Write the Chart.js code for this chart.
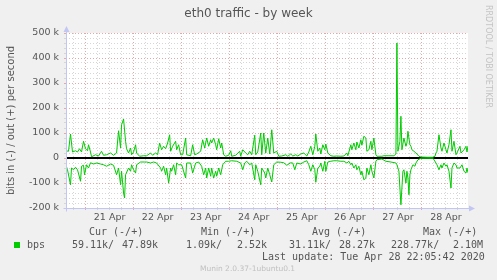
<!DOCTYPE html>
<html><head><meta charset="utf-8">
<script src="https://cdn.jsdelivr.net/npm/chart.js@4/dist/chart.umd.min.js"></script>
<style>
html,body{margin:0;padding:0;background:#f0f0f0;}
#wrap{position:relative;width:497px;height:280px;overflow:hidden;background:#f0f0f0;}
canvas{position:absolute;left:0;top:0;}
.t{position:absolute;white-space:pre;line-height:1;color:#555;}
.m{font-family:'DejaVu Sans Mono',monospace;font-size:10px;}
</style></head><body>
<div id="wrap">
<canvas id="c" width="497" height="280"></canvas>
<div class="t" style="left:0;width:497px;text-align:center;top:7px;font-family:'DejaVu Sans';font-size:12px;">eth0 traffic - by week</div>
<div class="t" style="left:492px;top:5px;font-family:'DejaVu Sans';font-size:8px;color:#c4c4c4;transform:rotate(90deg);transform-origin:0 0;">RRDTOOL / TOBI OETIKER</div>
<div class="t m" style="left:89px;top:227px;">Cur (-/+)</div>
<div class="t m" style="left:201px;top:227px;">Min (-/+)</div>
<div class="t m" style="left:312px;top:227px;">Avg (-/+)</div>
<div class="t m" style="left:423px;top:227px;">Max (-/+)</div>
<div style="position:absolute;left:14px;top:242px;width:6px;height:6px;background:#00cc00;"></div>
<div class="t m" style="left:27px;top:240px;">bps</div>
<div class="t m" style="left:72px;top:240px;">59.11k/</div>
<div class="t m" style="left:122px;top:240px;">47.89k</div>
<div class="t m" style="left:186px;top:240px;">1.09k/</div>
<div class="t m" style="left:237px;top:240px;">2.52k</div>
<div class="t m" style="left:289px;top:240px;">31.11k/</div>
<div class="t m" style="left:339px;top:240px;">28.27k</div>
<div class="t m" style="left:391px;top:240px;">228.77k/</div>
<div class="t m" style="left:453px;top:240px;">2.10M</div>
<div class="t m" style="left:262px;top:252px;">Last update: Tue Apr 28 22:05:42 2020</div>
<div class="t" style="left:0;width:495px;text-align:center;top:265px;font-family:'DejaVu Sans';font-size:7.5px;color:#c0c0c0;">Munin 2.0.37-1ubuntu0.1</div>
</div>
<script>
// hours relative to 21 Apr 00:00, values in kbit/s
const outHours = [-9.75,-8.5,-7.5,-6.5,-5,-4,-3,-2,-1,0,1,1.5,2.5,3,5,6.5,8,9,10.5,12.5,14,15.5,16.5,17.5,18,19,20,20.5,21.5,22.5,23,24,25,25.5,27,29,
30.5,32.5,33.5,35,36,37,38,39,40,41,42,42.5,43.5,45,45.5,46.5,47.5,48.5,50,50.5,52.5,53.5,54.5,55.5,57.5,58.5,59.5,60.5,61.5,62.5,63,64,65,65.5,66.5,67.5,68,69,
70,71.5,72.5,73,75,77,77.5,78.5,80,81,82,83,84.5,85,86,87.5,88,89,90,91,92,93,94,95.5,96.5,98,100,101,102.5,103.5,105,106,107.5,109,
110.5,111.5,112.5,113.5,114.5,115,116,117,117.5,118.5,119.5,120,121,122.5,124,125.5,127.5,129,130.5,131,132.5,133,134,135,135.5,136.5,137.5,138,139,140,140.5,141.5,142.5,143,144,145,145.5,148,
149,151.5,154,155,155.5,156,157,157.5,158,159,160,160.5,161,162,162.5,163,164,165,165.5,166.5,167.5,170.5,173.5,174.5,175,175.5,176.5,177.5,178,179,180,180.5,181.5,182.5,183,184,185,185.5,187,187.5,189,190,190.5,191];
const outK = [29,27,96,24,29,24,37,24,67,37,29,53,24,5,13,8,27,11,13,20,11,20,109,40,133,156,67,37,20,40,13,24,53,20,7,9,
9,20,11,20,13,60,33,47,37,60,93,27,47,67,33,53,13,13,80,13,9,53,13,16,27,73,40,80,47,73,60,80,53,33,77,40,60,13,
7,11,29,7,11,27,7,33,20,13,27,13,91,13,24,100,13,100,20,80,16,113,20,27,7,8,13,7,16,8,13,8,16,20,
8,24,47,13,47,96,27,40,16,53,33,56,20,9,7,8,7,8,20,9,53,33,60,33,64,40,73,51,87,80,27,33,67,33,80,13,7,7,
9,9,9,16,460,27,67,167,33,80,47,60,107,53,47,33,27,20,16,7,4,3,3,7,20,27,93,40,27,60,33,20,53,113,27,67,13,20,47,20,33,47,24,48];
const inHours = [-9.75,-9,-7.5,-7,-6,-5,-4,-2.5,-2,-1,-0.5,0.5,1.5,2.5,4,5.5,7.5,9,10.5,12.5,14,15.5,16.5,17.5,18,19,19.5,20,21.5,22.5,23,24,25,25.5,27.5,29.5,
30.5,32.5,34,35.5,37.5,38,39,40,40.5,41.5,42.5,43,44,45,45.5,46.5,48,50,50.5,52.5,53.5,55,56.5,58,59,60,60.5,61.5,62.5,63,64,65,65.5,66.5,67.5,68.5,70,
71.5,73,75.5,77.5,78.5,79.5,80.5,82,83,84.5,85,86,87.5,88,89.5,90,91,92,93,94,95.5,97.5,99,100.5,102.5,103.5,104.5,105.5,107.5,109,
110.5,111.5,112.5,113.5,114.5,115,116,117,117.5,118.5,119.5,120,121,122.5,124,125.5,127.5,129,130.5,131.5,132.5,133,134,135,135.5,136.5,137.5,138,139,140,140.5,141.5,142.5,143,144,145,145.5,148,
150,152.5,155,155.5,156.5,157,157.5,158.5,159,160,160.5,161,161.5,162,162.5,163.5,164.5,165,166,167.5,170.5,173.5,174,175,175.5,176.5,177.5,178,179,180,180.5,181.5,182.5,183,184,185,185.5,187,188,189,190,190.5,191];
const inK = [29,47,107,40,47,37,47,93,33,29,67,27,40,19,24,20,24,27,33,24,29,67,40,107,53,140,160,67,40,53,27,47,60,27,16,16,
16,20,16,20,40,53,33,67,40,100,40,53,27,67,20,27,27,80,20,20,60,20,16,33,67,40,80,40,73,40,80,53,73,40,67,27,13,
13,11,13,20,47,20,13,27,20,87,27,53,107,40,60,80,40,67,96,27,16,17,19,29,19,20,47,20,24,16,
11,27,53,27,47,97,40,33,20,53,13,53,16,13,11,11,13,13,20,13,27,20,40,27,47,33,67,53,87,80,40,67,27,53,80,13,7,4,
13,16,20,27,53,120,187,53,47,100,53,80,147,67,47,27,33,20,7,1,1,1,7,20,27,47,27,40,20,33,27,53,120,40,20,27,40,40,27,53,60,40,59];
const dayLabels = ['21 Apr','22 Apr','23 Apr','24 Apr','25 Apr','26 Apr','27 Apr','28 Apr'];
const yTickLabels = {500:'500 k',400:'400 k',300:'300 k',200:'200 k',100:'100 k',0:'0','-100':'-100 k','-200':'-200 k'};

const RED = '#e4a8a8', GRAY = '#d6d6d6', AXIS = '#c2c6f2';

const decor = {
  id: 'decor',
  beforeDraw(chart) {
    const {ctx, chartArea: a} = chart;
    ctx.save();
    ctx.fillStyle = '#ffffff';
    ctx.fillRect(a.left, a.top, a.right - a.left, a.bottom - a.top);
    ctx.restore();
  },
  beforeDatasetsDraw(chart) {
    const {ctx, chartArea: a, scales: {y}} = chart;
    const y0 = Math.round(y.getPixelForValue(0));
    ctx.save();
    ctx.strokeStyle = '#000';
    ctx.lineWidth = 2;
    ctx.beginPath(); ctx.moveTo(a.left, y0); ctx.lineTo(a.right, y0); ctx.stroke();
    ctx.restore();
  },
  afterDraw(chart) {
    const {ctx, chartArea: a} = chart;
    const L = Math.round(a.left) + 0.5, B = Math.round(a.bottom) + 0.5;
    ctx.save();
    ctx.strokeStyle = AXIS; ctx.fillStyle = AXIS; ctx.lineWidth = 1;
    ctx.beginPath(); ctx.moveTo(L, B + 3); ctx.lineTo(L, a.top - 4); ctx.stroke();
    ctx.beginPath(); ctx.moveTo(L - 3, B); ctx.lineTo(a.right + 4, B); ctx.stroke();
    ctx.beginPath(); ctx.moveTo(L - 3, a.top - 1); ctx.lineTo(L + 3, a.top - 1); ctx.lineTo(L, a.top - 7); ctx.closePath(); ctx.fill();
    ctx.beginPath(); ctx.moveTo(a.right + 1, B - 3); ctx.lineTo(a.right + 1, B + 3); ctx.lineTo(a.right + 7, B); ctx.closePath(); ctx.fill();
    ctx.restore();
  }
};

const ds = (hours, vals, sign) => hours.map((h, i) => ({x: h, y: sign * vals[i]}));

new Chart(document.getElementById('c'), {
  type: 'line',
  data: {
    datasets: [
      {label: 'out', data: ds(outHours, outK, 1), borderColor: '#00cc00', borderWidth: 1, pointRadius: 0, tension: 0, fill: false},
      {label: 'in', data: ds(inHours, inK, -1), borderColor: '#00cc00', borderWidth: 1, pointRadius: 0, tension: 0, fill: false}
    ]
  },
  options: {
    responsive: false, animation: false, devicePixelRatio: 1,
    layout: {padding: {left: 0, top: 33, right: 29, bottom: 0}},
    plugins: {legend: {display: false}, tooltip: {enabled: false}, title: {display: false}},
    font: {family: 'DejaVu Sans'},
    scales: {
      x: {
        type: 'linear', min: -9.75, max: 191,
        afterFit: s => { s.height = 72; },
        afterBuildTicks: s => { const t = []; for (let h = -6; h <= 186; h += 6) t.push({value: h}); s.ticks = t; },
        ticks: {autoSkip: false, maxRotation: 0, padding: 2, color: '#555', font: {family: 'DejaVu Sans', size: 9.5},
          callback: v => (v % 24 === 12 ? dayLabels[Math.floor(v / 24)] : '')},
        grid: {color: c => (c.tick && c.tick.value % 24 === 0 ? RED : GRAY), lineWidth: 1, tickLength: 2, drawTicks: true},
        border: {display: false, dash: [1, 2]}
      },
      y: {
        type: 'linear', min: -200, max: 500,
        afterFit: s => { s.width = 66; },
        afterBuildTicks: s => { const t = []; for (let v = -200; v <= 500; v += 20) t.push({value: v}); s.ticks = t; },
        ticks: {autoSkip: false, padding: 5, color: '#555', font: {family: 'DejaVu Sans', size: 9.5},
          callback: v => (yTickLabels[v] !== undefined ? yTickLabels[v] : '')},
        grid: {color: c => (c.tick && c.tick.value % 100 === 0 ? RED : GRAY), lineWidth: 1, tickLength: 2, drawTicks: true},
        border: {display: false, dash: [1, 2]},
        title: {display: true, text: 'bits in (-) / out (+) per second', color: '#555', font: {family: 'DejaVu Sans', size: 10}, padding: {top: 5, bottom: 0}}
      }
    }
  },
  plugins: [decor]
});
</script>
</body></html>
